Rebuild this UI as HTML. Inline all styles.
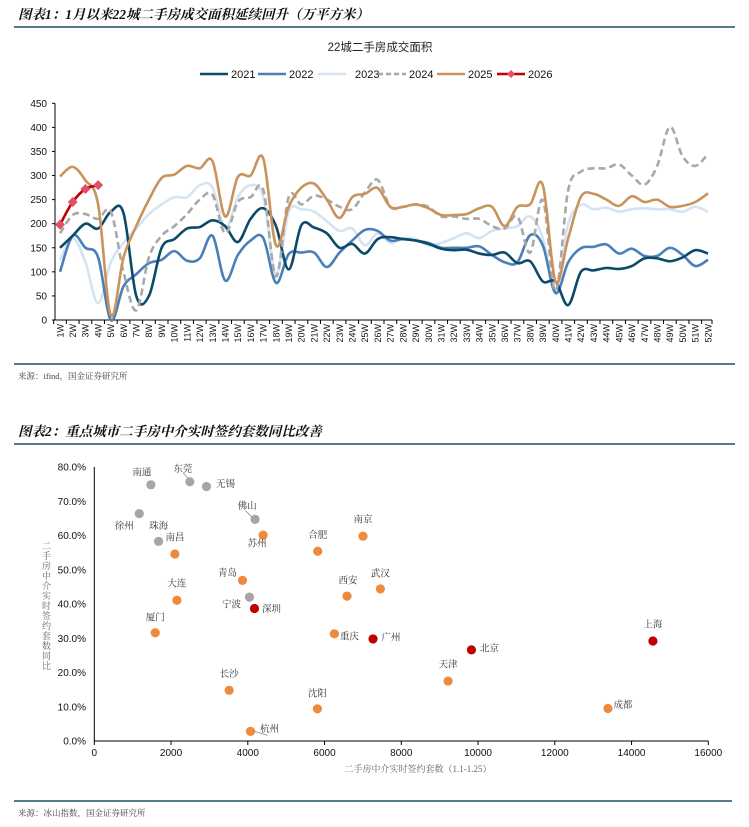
<!DOCTYPE html>
<html><head><meta charset="utf-8">
<style>
html,body{margin:0;padding:0;background:#fff;}
svg{display:block;font-family:"Liberation Sans","Noto Sans CJK SC",sans-serif;}
.cn{font-family:"Liberation Serif","Noto Serif CJK SC",serif;}
</style></head>
<body>
<svg id="page" width="749" height="827" viewBox="0 0 749 827" xmlns="http://www.w3.org/2000/svg">
  <text x="18" y="19" class="cn" font-size="13.5" font-weight="bold" font-style="italic" fill="#111">图表1：1月以来22城二手房成交面积延续回升（万平方米）</text>
  <line x1="14" y1="27" x2="735" y2="27" stroke="#1d4e63" stroke-width="1.5"/>
  <text x="380" y="51" text-anchor="middle" font-size="11.5" fill="#222">22城二手房成交面积</text>
  <g id="legend1"></g>
  <g id="chart1"></g>
  <line x1="14" y1="364" x2="735" y2="364" stroke="#1d4e63" stroke-width="1.5"/>
  <text x="18" y="379" class="cn" font-size="8.5" fill="#444">来源：ifind，国金证券研究所</text>

  <text x="18" y="436" class="cn" font-size="13.5" font-weight="bold" font-style="italic" fill="#111">图表2：重点城市二手房中介实时签约套数同比改善</text>
  <line x1="14" y1="444" x2="735" y2="444" stroke="#1d4e63" stroke-width="1.5"/>
  <g id="chart2"></g>
  <line x1="14" y1="801" x2="732" y2="801" stroke="#1d4e63" stroke-width="1.5"/>
  <text x="18" y="816" class="cn" font-size="8.5" fill="#444">来源：冰山指数，国金证券研究所</text>
</svg>
<script>
const weeks = Array.from({length:52},(_, i)=>(i+1)+'W');
const yTicks1 = [0,50,100,150,200,250,300,350,400,450];
const s2021 = [150,175,200,190,225,222,50,50,150,168,190,193,207,195,162,210,232,195,105,197,192,180,150,158,138,168,172,168,165,158,148,145,146,138,135,140,118,122,80,80,31,100,103,108,106,112,128,128,122,130,145,138];
const s2022 = [100,175,150,130,0,70,95,118,125,143,123,128,175,82,135,165,170,77,137,140,140,110,140,165,187,185,165,168,165,160,150,150,150,153,135,120,120,176,155,56,120,149,152,157,138,148,133,133,150,135,112,125];
const s2023 = [125,170,120,35,120,160,190,220,240,255,255,280,275,190,255,280,255,95,225,230,225,205,185,190,155,180,160,170,168,155,160,170,180,170,185,190,195,215,170,60,200,239,230,233,225,230,232,230,230,225,235,225];
const s2024 = [180,218,220,210,225,100,20,130,175,195,220,250,260,180,245,255,270,90,255,240,258,250,235,230,265,291,235,235,240,235,215,215,210,210,195,190,215,140,249,60,270,308,315,315,323,300,281,320,401,340,320,345];
const s2025 = [298,318,290,240,10,130,195,250,295,302,320,315,330,215,297,300,335,155,235,275,283,250,212,255,262,274,235,235,240,232,218,218,220,232,235,195,235,240,280,80,170,256,262,250,237,257,245,250,235,237,245,263];
const s2026 = [198,245,272,280];
const seriesNames = ['2021','2022','2023','2024','2025','2026'];

const cities = ['南通','东莞','无锡','徐州','佛山','珠海','苏州','合肥','南京','南昌','青岛','西安','武汉','大连','宁波','深圳','厦门','重庆','广州','长沙','沈阳','杭州','北京','天津','上海','成都'];
const deals = [1475,2490,2924,1171,4191,1675,4399,5822,7002,2100,3861,6586,7454,2152,4044,4174,1588,6256,7263,3514,5814,4070,9828,9219,14557,13385];
const yoy = [74.8,75.7,74.3,66.4,64.7,58.3,60.1,55.4,59.8,54.6,46.9,42.3,44.4,41.1,42.0,38.7,31.6,31.3,29.8,14.8,9.4,2.8,26.6,17.5,29.2,9.5];
const group = ['g','g','g','g','g','g','o','o','o','o','o','o','o','o','g','r','o','o','r','o','o','o','r','o','r','o'];
const xTicks2 = [0,2000,4000,6000,8000,10000,12000,14000,16000];
const yTicks2 = [0,10,20,30,40,50,60,70,80];

const NS='http://www.w3.org/2000/svg';
function mk(tag, attrs, parent, txt){const e=document.createElementNS(NS,tag);for(const k in attrs)e.setAttribute(k,attrs[k]);if(txt!==undefined)e.textContent=txt;parent.appendChild(e);return e;}

// ---------- chart 1 ----------
const c1=document.getElementById('chart1');
const X0=55,X1=712,Y0=320,Y1=103.3;
const xs1=i=>60+i*(708-60)/51;
const ys1=v=>Y0-(v/450)*(Y0-Y1);
yTicks1.forEach(t=>{
  const tl=mk('text',{x:47,y:ys1(t)+3.5,'text-anchor':'end','font-size':10,fill:'#111'},c1,String(t));
  
  
  mk('line',{x1:X0-3,y1:ys1(t),x2:X0,y2:ys1(t),stroke:'#000','stroke-width':1},c1);
});
const ax=mk('line',{x1:X0,y1:Y1,x2:X0,y2:Y0,stroke:'#000','stroke-width':1},c1);


const bx=mk('line',{x1:X0,y1:Y0,x2:X1,y2:Y0,stroke:'#000','stroke-width':1},c1);


weeks.forEach((w,i)=>{
  const tx=xs1(i)-6.35;
  mk('line',{x1:tx,y1:Y0,x2:tx,y2:Y0+4,stroke:'#000','stroke-width':1},c1);
  const t=mk('text',{x:0,y:0,'text-anchor':'end','font-size':9,fill:'#111',transform:`translate(${xs1(i)+3.3},${Y0+4}) rotate(-90)`},c1,w);
  
  
});
mk('line',{x1:X1,y1:Y0,x2:X1,y2:Y0+4,stroke:'#000','stroke-width':1},c1);
function smooth(pts){
  let d=`M${pts[0][0]},${pts[0][1]}`;
  for(let i=0;i<pts.length-1;i++){
    const p0=pts[i-1]||pts[i],p1=pts[i],p2=pts[i+1],p3=pts[i+2]||p2;
    const t=0.17;
    d+=` C${p1[0]+(p2[0]-p0[0])*t},${p1[1]+(p2[1]-p0[1])*t} ${p2[0]-(p3[0]-p1[0])*t},${p2[1]-(p3[1]-p1[1])*t} ${p2[0]},${p2[1]}`;
  }
  return d;
}
const styles={
 '2021':{c:'#0c4a6a',w:2.6,dash:''},
 '2022':{c:'#4a7fba',w:2.6,dash:''},
 '2023':{c:'#d4e4f2',w:2.6,dash:''},
 '2024':{c:'#a8a8a8',w:2.6,dash:'7,4'},
 '2025':{c:'#c9935c',w:2.6,dash:''},
 '2026':{c:'#c00000',w:2.6,dash:''}
};
const data1={'2021':s2021,'2022':s2022,'2023':s2023,'2024':s2024,'2025':s2025,'2026':s2026};
['2023','2022','2021','2024','2025','2026'].forEach(n=>{
  const arr=data1[n];const st=styles[n];
  const p=mk('path',{d:smooth(arr.map((v,i)=>[xs1(i),ys1(v)])),fill:'none',stroke:st.c,'stroke-width':st.w,'stroke-dasharray':st.dash,'stroke-linejoin':'round'},c1);
  
  
  if(n==='2026'){
    arr.forEach((v,i)=>{
      const x=xs1(i),y=ys1(v);
      const m=mk('polygon',{points:`${x},${y-5} ${x+5},${y} ${x},${y+5} ${x-5},${y}`,fill:'#e0506a'},c1);
      
      
    });
  }
});
// legend
const lg=document.getElementById('legend1');
const legX=[200,258,318,378,437,497];
seriesNames.forEach((n,i)=>{
  const st=styles[n];const x=legX[i];const y=74;
  const g=mk('g',{},lg);
  
  
  mk('line',{x1:x,y1:y,x2:x+28,y2:y,stroke:st.c,'stroke-width':2.6,'stroke-dasharray':st.dash?'5,3':''},g);
  if(n==='2026')mk('polygon',{points:`${x+14},${y-4} ${x+18},${y} ${x+14},${y+4} ${x+10},${y}`,fill:'#e0506a'},g);
  mk('text',{x:(n==='2023'?x+37:x+31),y:y+4,'font-size':11,fill:'#111'},g,n);
});

// ---------- chart 2 ----------
const c2=document.getElementById('chart2');
const PX0=94.3,PX1=708.3,PY0=741,PY1=467;
const xs2=v=>PX0+v/16000*(PX1-PX0);
const ys2=v=>PY0-v/80*(PY0-PY1);
yTicks2.forEach(t=>{
  const tl=mk('text',{x:86,y:ys2(t)+3.5,'text-anchor':'end','font-size':10,fill:'#111'},c2,t.toFixed(1)+'%');
  
  
});
xTicks2.forEach(t=>{
  mk('line',{x1:xs2(t),y1:PY0,x2:xs2(t),y2:PY0+4,stroke:'#000','stroke-width':1},c2);
  const tl=mk('text',{x:xs2(t),y:PY0+15,'text-anchor':'middle','font-size':10,fill:'#111'},c2,String(t));
  
  
});
const ay2=mk('line',{x1:PX0,y1:PY1,x2:PX0,y2:PY0,stroke:'#000','stroke-width':1},c2);


const ax2=mk('line',{x1:PX0,y1:PY0,x2:PX1,y2:PY0,stroke:'#000','stroke-width':1},c2);


const xt=mk('text',{x:418,y:772,'text-anchor':'middle','font-size':9,fill:'#666',class:'cn'},c2,'二手房中介实时签约套数（1.1-1.25）');


const yt=mk('text',{x:46,y:541,'font-size':9,fill:'#666',class:'cn','writing-mode':'tb','glyph-orientation-vertical':0,'letter-spacing':'1'},c2,'二手房中介实时签约套数同比');


const colors={g:'#a6a6a6',o:'#ee8a3c',r:'#c00000'};
const labelOff=[[-9,-13],[-7,-13],[19,-3],[-15,12],[-8,-14],[0,-16],[-6,8],[0,-17],[0,-17],[0,-17],[-15,-8],[1,-16],[0,-16],[0,-17],[-18,7],[17,0],[0,-16],[15,2],[18,-2],[0,-17],[0,-16],[19,-3],[18,-2],[0,-17],[0,-17],[15,-4]];
cities.forEach((c,i)=>{
  const x=xs2(deals[i]),y=ys2(yoy[i]);
  const d=mk('circle',{cx:x,cy:y,r:4.6,fill:colors[group[i]]},c2);
  
  
  const o=labelOff[i];
  if(c==='东莞')mk('line',{x1:x-7,y1:y-9,x2:x-2,y2:y-4,stroke:'#888','stroke-width':0.8},c2);
  if(c==='佛山')mk('line',{x1:x-10,y1:y-9,x2:x-3,y2:y-2,stroke:'#888','stroke-width':0.8},c2);
  if(c==='杭州')mk('line',{x1:x+4,y1:y,x2:x+17,y2:y+4,stroke:'#888','stroke-width':0.8},c2);
  const t=mk('text',{x:x+o[0],y:y+o[1]+3.5,'text-anchor':'middle','font-size':9.5,fill:'#333',class:'cn'},c2,c);
  
  
});
</script>
</body></html>
